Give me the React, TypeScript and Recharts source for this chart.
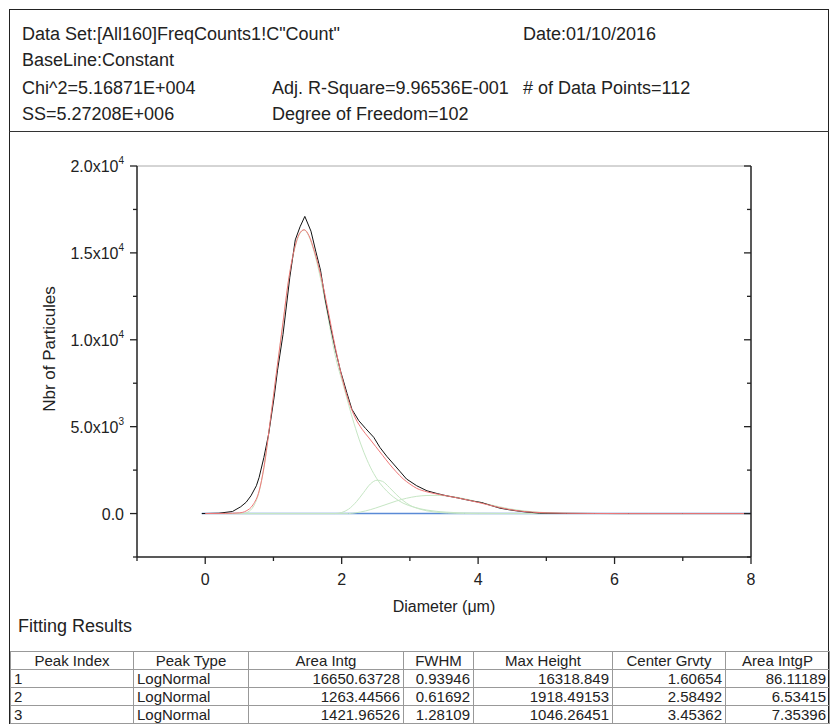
import React from "react";
import { LineChart, Line, XAxis, YAxis, ReferenceLine } from "recharts";

// measured counts (black)
const MEAS_X = [-0.05, 0.2, 0.4, 0.52, 0.6, 0.67, 0.75, 0.79, 0.86, 0.93, 1.01, 1.06, 1.14, 1.24, 1.32, 1.39, 1.46, 1.55, 1.62, 1.69, 1.76, 1.84, 1.91, 1.98, 2.08, 2.15, 2.25, 2.35, 2.47, 2.56, 2.66, 2.76, 2.86, 2.95, 3.1, 3.25, 3.4, 3.54, 3.7, 3.83, 3.95, 4.05, 4.2, 4.32, 4.45, 4.56, 4.7, 4.9, 5.2, 5.6, 6.0, 6.5, 7.0, 7.5, 8.0];
const MEAS_Y = [0, 20, 120, 390, 650, 1020, 1600, 2080, 3230, 4580, 6700, 8250, 10300, 13600, 15750, 16500, 17100, 16250, 15100, 14000, 12300, 10700, 9400, 8250, 6900, 6000, 5350, 4900, 4390, 3810, 3300, 2850, 2400, 1990, 1600, 1310, 1150, 1020, 900, 790, 700, 635, 450, 310, 220, 156, 90, 25, 10, 5, 0, 0, 0, 0, 0];

// cumulative fit (red)
const FIT_X = [0, 0.3, 0.5, 0.6, 0.7, 0.79, 0.86, 0.96, 1.05, 1.14, 1.22, 1.3, 1.38, 1.45, 1.52, 1.6, 1.7, 1.8, 1.9, 2.0, 2.1, 2.2, 2.3, 2.4, 2.5, 2.6, 2.7, 2.8, 2.9, 3.0, 3.1, 3.25, 3.4, 3.55, 3.7, 3.85, 4.0, 4.15, 4.3, 4.45, 4.6, 4.8, 5.0, 5.3, 5.7, 6.2, 7.0, 8.0];
const FIT_Y = [0, 10, 40, 150, 500, 1300, 2650, 5540, 8300, 11000, 13400, 15100, 16100, 16330, 16000, 15100, 13600, 11700, 9700, 7900, 6500, 5500, 4850, 4350, 3850, 3350, 2850, 2400, 2000, 1700, 1450, 1250, 1120, 1010, 900, 780, 640, 500, 360, 240, 150, 80, 40, 15, 5, 0, 0, 0];

// peak 1 (green)
const P1_X = [0, 0.55, 0.65, 0.72, 0.79, 0.86, 0.96, 1.05, 1.14, 1.22, 1.3, 1.38, 1.45, 1.52, 1.6, 1.7, 1.8, 1.9, 2.03, 2.18, 2.28, 2.37, 2.47, 2.56, 2.66, 2.76, 2.9, 3.05, 3.25, 3.54, 3.9, 4.3, 5.0, 8.0];
const P1_Y = [0, 0, 150, 500, 1250, 2600, 5500, 8250, 10950, 13350, 15050, 16050, 16320, 15950, 15000, 13350, 11300, 9200, 7300, 5200, 4000, 3100, 2300, 1750, 1300, 950, 600, 380, 200, 80, 25, 5, 0, 0];

// peak 2 (green)
const P2_X = [0, 1.9, 2.0, 2.1, 2.22, 2.32, 2.42, 2.52, 2.6, 2.7, 2.8, 2.9, 3.0, 3.15, 3.34, 3.55, 3.8, 4.0, 8.0];
const P2_Y = [0, 0, 60, 250, 700, 1200, 1700, 1918, 1850, 1500, 1100, 750, 480, 250, 100, 30, 5, 0, 0];

// peak 3 (green)
const P3_X = [0, 2.1, 2.2, 2.35, 2.5, 2.65, 2.8, 2.95, 3.1, 3.25, 3.4, 3.55, 3.7, 3.85, 4.0, 4.15, 4.3, 4.45, 4.6, 4.8, 5.0, 5.3, 5.7, 6.0, 8.0];
const P3_Y = [0, 0, 40, 150, 320, 520, 720, 880, 990, 1040, 1046, 1010, 930, 810, 670, 530, 400, 280, 190, 100, 50, 15, 3, 0, 0];

// constant baseline (blue)
const BASE_X = [-0.05, 8.0];
const BASE_Y = [0, 0];

const X_TICKS = [-1, 0, 1, 2, 3, 4, 5, 6, 7, 8];
const X_LABELS = ["", "0", "", "2", "", "4", "", "6", "", "8"];
const Y_TICKS = [-2500, 0, 2500, 5000, 7500, 10000, 12500, 15000, 17500, 20000];
const Y_MANT = ["", "0.0", "", "5.0", "", "1.0", "", "1.5", "", "2.0"];
const Y_EXP = ["", "", "", "3", "", "4", "", "4", "", "4"];

const TABLE_HEAD = ["Peak Index", "Peak Type", "Area Intg", "FWHM", "Max Height", "Center Grvty", "Area IntgP"];
const PEAK_INDEX = ["1", "2", "3"];
const PEAK_TYPE = ["LogNormal", "LogNormal", "LogNormal"];
const AREA_INTG = ["16650.63728", "1263.44566", "1421.96526"];
const FWHM = ["0.93946", "0.61692", "1.28109"];
const MAX_HEIGHT = ["16318.849", "1918.49153", "1046.26451"];
const CENTER_GRVTY = ["1.60654", "2.58492", "3.45362"];
const AREA_INTGP = ["86.11189", "6.53415", "7.35396"];

const COL_W = [123, 115, 155, 70, 139, 113, 104];

const FONT = '"Liberation Sans", Arial, sans-serif';
const INK = "#222";

const zip = (xs: number[], ys: number[]) => xs.map((x, i) => ({ x, y: ys[i] }));

function YTickLeft(props: any) {
  const { x, y, payload } = props;
  const i = Y_TICKS.indexOf(payload.value);
  const major = Y_MANT[i] !== "";
  const len = major ? 7 : 4;
  return (
    <g>
      <line x1={x} x2={x - len} y1={y} y2={y} stroke={INK} strokeWidth={1.3} />
      {major && (
        <text x={x - 13} y={y + 6} textAnchor="end" fontSize={16} fill={INK} fontFamily={FONT}>
          {Y_MANT[i]}
          {Y_EXP[i] !== "" && <tspan>x10</tspan>}
          {Y_EXP[i] !== "" && (
            <tspan dy={-8} fontSize={10}>
              {Y_EXP[i]}
            </tspan>
          )}
        </text>
      )}
    </g>
  );
}

function YTickRight(props: any) {
  const { x, y, payload } = props;
  const i = Y_TICKS.indexOf(payload.value);
  const len = Y_MANT[i] !== "" ? 7 : 4;
  return <line x1={x} x2={x - len} y1={y} y2={y} stroke={INK} strokeWidth={1.3} />;
}

function XTick(props: any) {
  const { x, y, payload } = props;
  const i = X_TICKS.indexOf(payload.value);
  const major = X_LABELS[i] !== "";
  const len = major ? 7 : 4;
  return (
    <g>
      <line x1={x} x2={x} y1={y} y2={y + len} stroke={INK} strokeWidth={1.3} />
      {major && (
        <text x={x} y={y + 28} textAnchor="middle" fontSize={16} fill={INK} fontFamily={FONT}>
          {X_LABELS[i]}
        </text>
      )}
    </g>
  );
}

const HEAD_FS = 18;
const txt = (left: number, top: number, size: number, s: string) => (
  <div style={{ position: "absolute", left, top, fontSize: size, lineHeight: 1, whiteSpace: "nowrap" }}>{s}</div>
);

export default function App() {
  const rows = PEAK_INDEX.map((p, i) => [p, PEAK_TYPE[i], AREA_INTG[i], FWHM[i], MAX_HEIGHT[i], CENTER_GRVTY[i], AREA_INTGP[i]]);
  const cell: React.CSSProperties = { border: "1px solid #999", padding: "0 3px", height: 17, lineHeight: "17px", whiteSpace: "nowrap" };

  return (
    <div style={{ position: "fixed", left: 0, top: 0, width: 831, height: 724, overflow: "hidden", background: "#fff", fontFamily: FONT, color: INK }}>
      {/* outer frame and header separator */}
      <div style={{ position: "absolute", left: 9, top: 9, width: 818, height: 740, border: "1.5px solid #222" }} />
      <div style={{ position: "absolute", left: 9, top: 131, width: 820, height: 0, borderTop: "1.3px solid #333" }} />

      {txt(22, 25, HEAD_FS, 'Data Set:[All160]FreqCounts1!C"Count"')}
      {txt(523, 25, HEAD_FS, "Date:01/10/2016")}
      {txt(22, 51, HEAD_FS, "BaseLine:Constant")}
      {txt(22, 79, HEAD_FS, "Chi^2=5.16871E+004")}
      {txt(272, 79, HEAD_FS, "Adj. R-Square=9.96536E-001")}
      {txt(523, 79, HEAD_FS, "# of Data Points=112")}
      {txt(22, 105, HEAD_FS, "SS=5.27208E+006")}
      {txt(272, 105, HEAD_FS, "Degree of Freedom=102")}

      <div style={{ position: "absolute", left: 0, top: 0 }}>
        <LineChart width={831} height={600} margin={{ top: 166, right: 79, bottom: 42, left: 136 }}>
          <XAxis
            type="number"
            dataKey="x"
            domain={[-1, 8]}
            ticks={X_TICKS}
            interval={0}
            height={1}
            tickSize={0}
            tickMargin={0}
            tickLine={false}
            tick={<XTick />}
            axisLine={{ stroke: INK, strokeWidth: 1.5 }}
            allowDataOverflow
          />
          <YAxis
            yAxisId="l"
            type="number"
            domain={[-2500, 20000]}
            ticks={Y_TICKS}
            interval={0}
            width={1}
            tickSize={0}
            tickMargin={0}
            tickLine={false}
            tick={<YTickLeft />}
            axisLine={{ stroke: INK, strokeWidth: 1.5 }}
            allowDataOverflow
          />
          <YAxis
            yAxisId="r"
            orientation="right"
            type="number"
            domain={[-2500, 20000]}
            ticks={Y_TICKS}
            interval={0}
            width={1}
            tickSize={0}
            tickMargin={0}
            tickLine={false}
            tick={<YTickRight />}
            axisLine={{ stroke: INK, strokeWidth: 1.5 }}
            allowDataOverflow
          />
          <ReferenceLine yAxisId="l" y={20000} stroke="#aaa" strokeWidth={1} />
          <Line yAxisId="l" data={zip(BASE_X, BASE_Y)} dataKey="y" type="linear" stroke="#5a8ad6" strokeWidth={1.5} dot={false} isAnimationActive={false} />
          <Line yAxisId="l" data={zip(P1_X, P1_Y)} dataKey="y" type="monotone" stroke="#c6e6c4" strokeWidth={1} dot={false} isAnimationActive={false} />
          <Line yAxisId="l" data={zip(P2_X, P2_Y)} dataKey="y" type="monotone" stroke="#c6e6c4" strokeWidth={1} dot={false} isAnimationActive={false} />
          <Line yAxisId="l" data={zip(P3_X, P3_Y)} dataKey="y" type="monotone" stroke="#c6e6c4" strokeWidth={1} dot={false} isAnimationActive={false} />
          <Line yAxisId="l" data={zip(MEAS_X, MEAS_Y)} dataKey="y" type="linear" stroke="#111" strokeWidth={1} dot={false} isAnimationActive={false} />
          <Line yAxisId="l" data={zip(FIT_X, FIT_Y)} dataKey="y" type="monotone" stroke="#f07878" strokeWidth={1} dot={false} isAnimationActive={false} />
        </LineChart>
      </div>

      <div
        style={{
          position: "absolute",
          left: 50,
          top: 349,
          transform: "translate(-50%, -50%) rotate(-90deg)",
          fontSize: 17,
          whiteSpace: "nowrap",
        }}
      >
        Nbr of Particules
      </div>
      <div style={{ position: "absolute", left: 444, top: 607, transform: "translate(-50%, -50%)", fontSize: 16, whiteSpace: "nowrap" }}>
        Diameter (μm)
      </div>
      {txt(18, 617, 18, "Fitting Results")}

      <table
        style={{
          position: "absolute",
          left: 10,
          top: 651,
          borderCollapse: "collapse",
          fontSize: 15,
          fontFamily: FONT,
          color: INK,
          tableLayout: "fixed",
          borderTop: "1.5px solid #333",
        }}
      >
        <colgroup>
          {COL_W.map((w, i) => (
            <col key={i} style={{ width: w }} />
          ))}
        </colgroup>
        <thead>
          <tr>
            {TABLE_HEAD.map((h) => (
              <th key={h} style={{ ...cell, fontWeight: "normal", textAlign: "center" }}>
                {h}
              </th>
            ))}
          </tr>
        </thead>
        <tbody>
          {rows.map((r, ri) => (
            <tr key={ri}>
              {r.map((c, ci) => (
                <td key={ci} style={{ ...cell, textAlign: ci < 2 ? "left" : "right" }}>
                  {c}
                </td>
              ))}
            </tr>
          ))}
        </tbody>
      </table>
    </div>
  );
}
